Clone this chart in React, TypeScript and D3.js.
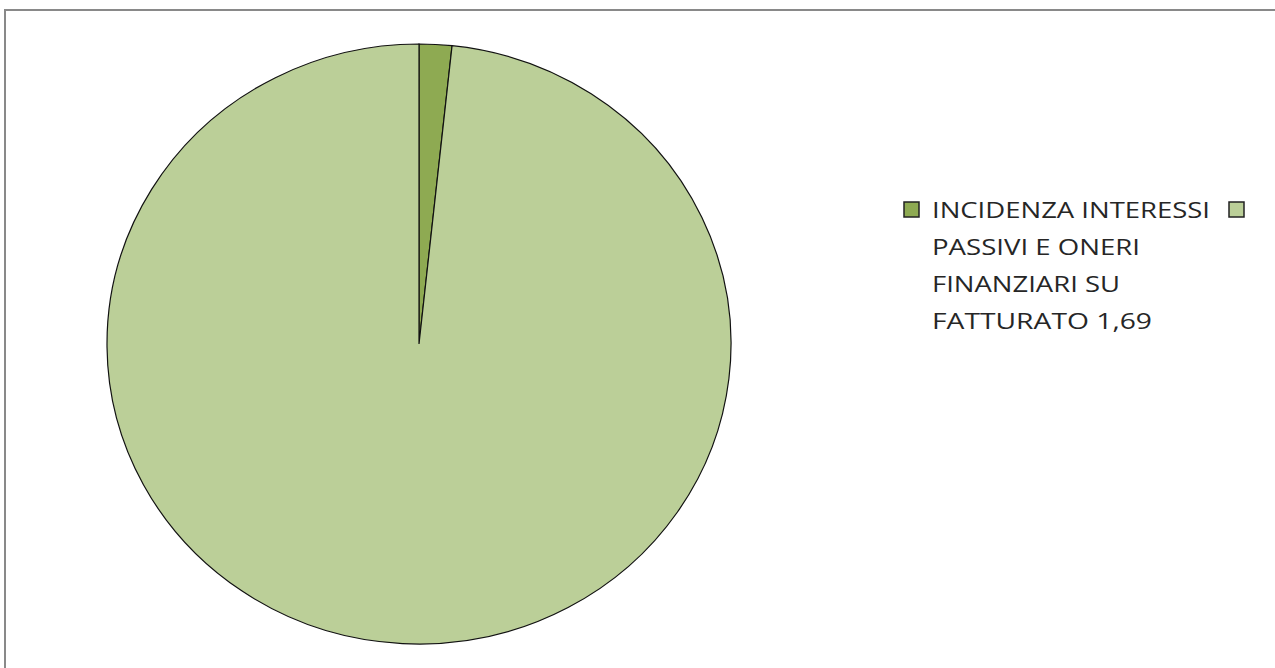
import React from 'react';
import * as d3 from 'd3';

const labels = ['INCIDENZA INTERESSI PASSIVI E ONERI FINANZIARI SU FATTURATO 1,69', ''];
const values = [1.69, 98.31];
const colors = ['#8EAA52', '#BBCF98'];
const legendLines = ['INCIDENZA INTERESSI', 'PASSIVI E ONERI', 'FINANZIARI SU', 'FATTURATO 1,69'];
const legendWidths = [278, 208, 188, 220];

const W = 1275;
const H = 668;
const cx = 419;
const cy = 344;
const ry = 300;
const rx = 312;

const App = () => {
  const pie = d3
    .pie<number>()
    .sort(null)
    .value((d) => d);
  const arcs = pie(values);
  const arc = d3.arc<d3.PieArcDatum<number>>().innerRadius(0).outerRadius(ry);

  return (
    <svg
      width={W}
      height={H}
      style={{position: 'absolute', left: 0, top: 0, fontFamily: '"Open Sans", sans-serif'}}>
      <rect x={0} y={0} width={W} height={H} fill="#fff" />
      <rect x={5} y={10} width={W + 10} height={H + 10} fill="#fff" stroke="#898989" strokeWidth={2} />
      <g transform={`translate(${cx},${cy}) scale(${rx / ry},1)`}>
        {arcs.map((a, i) => (
          <path
            key={i}
            d={arc(a) || ''}
            fill={colors[i]}
            stroke="#111"
            strokeWidth={1.2}
            vectorEffect="non-scaling-stroke"
          />
        ))}
      </g>
      <g>
        <rect x={904} y={202} width={15} height={15} fill={colors[0]} stroke="#222" strokeWidth={1.5} />
        {legendLines.map((t, i) => (
          <text
            key={i}
            x={932}
            y={218 + i * 37}
            fontSize={22}
            fill="#262626"
            textLength={legendWidths[i]}
            lengthAdjust="spacingAndGlyphs">
            {t}
          </text>
        ))}
        <rect x={1229} y={202} width={15} height={15} fill={colors[1]} stroke="#222" strokeWidth={1.5} />
        <text x={1252} y={218} fontSize={22} fill="#262626">
          {labels[1]}
        </text>
      </g>
    </svg>
  );
};

export default App;
